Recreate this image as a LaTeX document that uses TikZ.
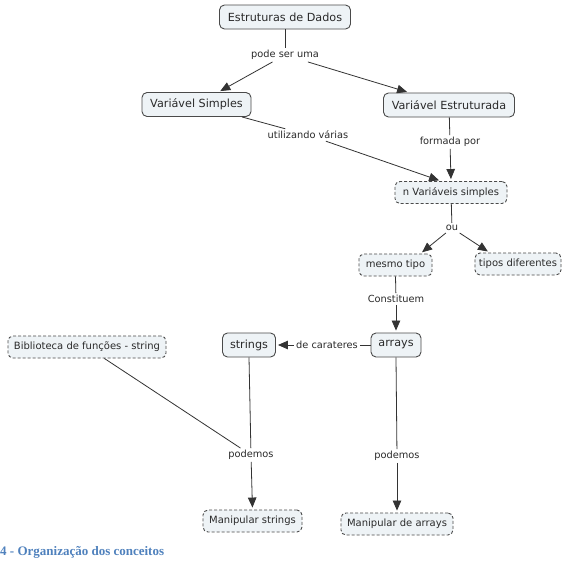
\documentclass[tikz,border=0pt]{standalone}
\usepackage{fontspec}
\setmainfont{DejaVu Sans}
\newfontfamily\captionserif{Liberation Serif}
\usetikzlibrary{arrows.meta}
\definecolor{boxfill}{HTML}{EEF3F6}
\definecolor{boxline}{HTML}{4A4A4A}
\definecolor{linkline}{HTML}{333333}
\definecolor{textgrey}{HTML}{2A2A2A}
\definecolor{captionblue}{HTML}{4F81BD}

\begin{document}
\begin{tikzpicture}[x=1pt,y=-1pt,
  concept/.style={draw=boxline, fill=boxfill, rounded corners=5pt, line width=0.9pt,
    font=\fontsize{11.2}{13}\selectfont, text=textgrey, inner xsep=4pt,
    minimum height=24pt},
  dashedconcept/.style={concept, dash pattern=on 3pt off 2pt, minimum height=22pt,
    font=\fontsize{10}{12}\selectfont},
  linklabel/.style={font=\fontsize{9.8}{11}\selectfont, text=textgrey, inner sep=2pt},
  link/.style={draw=linkline, line width=0.8pt},
  arrowlink/.style={link, -{Triangle[length=10pt,width=8.5pt]}, shorten >=2pt}
]
\useasboundingbox[fill=white] (0,0) rectangle (565,576);

% concepts
\node[concept, minimum width=131pt] (est) at (285,17) {Estruturas de Dados};
\node[concept, minimum width=109pt] (vs)  at (196.5,104.5) {Variável Simples};
\node[concept, minimum width=131pt] (ve)  at (449,105) {Variável Estruturada};
\node[dashedconcept, minimum width=112pt] (nv) at (451,192.5) {n Variáveis simples};
\node[dashedconcept, minimum width=73pt]  (mt) at (395.5,265) {mesmo tipo};
\node[dashedconcept, minimum width=86pt]  (td) at (518,264) {tipos diferentes};
\node[concept, minimum width=50pt] (arr) at (396,345) {arrays};
\node[concept, minimum width=53pt] (str) at (249,345) {strings};
\node[dashedconcept, minimum width=158pt] (bib) at (87,347) {Biblioteca de funções - string};
\node[dashedconcept, minimum width=99pt]  (ms) at (252.5,521) {Manipular strings};
\node[dashedconcept, minimum width=112pt] (ma) at (397,524) {Manipular de arrays};

% linking phrases
\node[linklabel] (l1) at (285,55)  {pode ser uma};
\node[linklabel] (l2) at (308,135) {utilizando várias};
\node[linklabel] (l3) at (450,142) {formada por};
\node[linklabel] (l4) at (452,228) {ou};
\node[linklabel] (l5) at (396,299) {Constituem};
\node[linklabel] (l6) at (327,345) {de carateres};
\node[linklabel] (l7) at (251,455) {podemos};
\node[linklabel] (l8) at (397,456) {podemos};

% connectors
\draw[link] (est) -- (l1);
\draw[arrowlink] (l1) -- ([xshift=22pt]vs.north);
\draw[arrowlink] (l1) -- ([xshift=-40pt]ve.north);

\draw[link] (vs) -- (l2);
\draw[arrowlink] (l2) -- ([xshift=-10pt]nv.north);
\draw[link] (ve) -- (l3);
\draw[arrowlink] (l3) -- (nv.north);

\draw[link] (nv) -- (l4);
\draw[arrowlink] (l4) -- ([xshift=25pt]mt.north);
\draw[arrowlink] (l4) -- ([xshift=15pt]td.north west);

\draw[link] (mt.south) -- (l5);
\draw[arrowlink] (l5) -- (arr.north);

\draw[link] (arr) -- (l6);
\draw[arrowlink] (l6) -- (str.east);

\draw[link] (str.south) -- (l7);
\draw[link] (bib) -- (l7);
\draw[arrowlink] (l7) -- (ms.north);

\draw[link] (arr.south) -- (l8);
\draw[arrowlink] (l8) -- (ma.north);

% caption
\node[anchor=west, inner sep=0pt, text=captionblue, font=\captionserif\bfseries\fontsize{13}{15}\selectfont]
  (cap) at (0,552) {4 - Organização dos conceitos};
\end{tikzpicture}
\end{document}
